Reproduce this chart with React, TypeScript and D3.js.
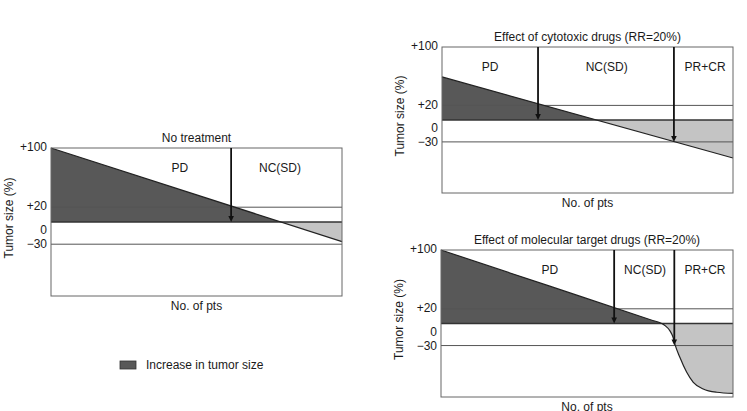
import React from 'react';
import * as d3 from 'd3';

// x: share of patients (%), y: change in tumor size (%)
const noTreatmentX = [0, 100];
const noTreatmentY = [100, -26.6];

const cytotoxicX = [0, 100];
const cytotoxicY = [59, -52];

const targetX = [0, 37, 72, 75.6, 76.7, 78.4, 79.5, 80.1, 81.8, 84.1, 86.4, 89.8, 94.4, 100];
const targetY = [100, 51.1, 4.8, 0, -2.7, -10, -19, -28, -46, -66, -80, -89, -93.5, -95];

const tickValues = [100, 20, 0, -30];
const tickLabels = ['+100', '+20', '0', '\u221230'];

const noTreatmentZones = ['PD', 'NC(SD)'];
const noTreatmentZoneAt = [44.3, 78.7];
const noTreatmentArrowAt = [61.9];
const noTreatmentArrowTo = [0];

const cytotoxicZones = ['PD', 'NC(SD)', 'PR+CR'];
const cytotoxicZoneAt = [16.5, 56.6, 90.4];
const cytotoxicArrowAt = [33, 79.7];
const cytotoxicArrowTo = [0, -30];

const targetZones = ['PD', 'NC(SD)', 'PR+CR'];
const targetZoneAt = [37.3, 69.9, 90.4];
const targetArrowAt = [59.3, 79.9];
const targetArrowTo = [0, -30];

const legendLabel = 'Increase in tumor size';

const DARK = '#585858';
const LIGHT = '#c4c4c4';
const FONT = 'Liberation Sans, Arial, Helvetica, sans-serif';
const INK = '#1a1a1a';

type PanelProps = {
  id: string;
  x0: number; x1: number; y0: number; y1: number;
  title: string;
  xs: number[]; ys: number[];
  curve: d3.CurveFactory;
  zones: string[]; zoneAt: number[];
  arrowAt: number[]; arrowTo: number[];
};

const Panel = ({ id, x0, x1, y0, y1, title, xs, ys, curve, zones, zoneAt, arrowAt, arrowTo }: PanelProps) => {
  const x = d3.scaleLinear().domain([0, 100]).range([x0, x1]);
  const y = d3.scaleLinear().domain([-100, 100]).range([y1, y0]);
  const pts: [number, number][] = xs.map((v, i) => [v, ys[i]]);

  const area = d3.area<[number, number]>()
    .x(d => x(d[0]))
    .y0(y(0))
    .y1(d => y(d[1]))
    .curve(curve);
  const line = d3.line<[number, number]>()
    .x(d => x(d[0]))
    .y(d => y(d[1]))
    .curve(curve);

  const zeroY = y(0);
  const w = x1 - x0;
  const cx = (x0 + x1) / 2;

  // small nudges so the "0" and "-30" labels do not sit on top of each other
  const tickNudge = (v: number) => (v === 0 ? 9 : v === -30 ? 1 : 0);

  return (
    <g>
      <defs>
        <clipPath id={`${id}-up`}>
          <rect x={x0} y={y0} width={w} height={zeroY - y0} />
        </clipPath>
        <clipPath id={`${id}-down`}>
          <rect x={x0} y={zeroY} width={w} height={y1 - zeroY} />
        </clipPath>
      </defs>

      {/* growth above baseline, shrinkage below */}
      <path d={area(pts) || ''} fill={DARK} clipPath={`url(#${id}-up)`} />
      <path d={area(pts) || ''} fill={LIGHT} clipPath={`url(#${id}-down)`} />

      {/* reference lines at +20 / 0 / -30 */}
      {tickValues.filter(v => v !== 100).map(v => (
        <line key={v} x1={x0} x2={x1} y1={y(v)} y2={y(v)}
          stroke={v === 0 ? '#333' : '#555'} strokeWidth={v === 0 ? 1.6 : 1} />
      ))}

      <path d={line(pts) || ''} fill="none" stroke="#222" strokeWidth={1.2} />

      <rect x={x0} y={y0} width={w} height={y1 - y0} fill="none" stroke="#666" strokeWidth={1} />

      {arrowAt.map((a, i) => {
        const ax = x(a);
        const tip = y(arrowTo[i]);
        return (
          <g key={i}>
            <line x1={ax} x2={ax} y1={y0} y2={tip - 5} stroke="#111" strokeWidth={1.8} />
            <path d={`M${ax - 2.8},${tip - 6} L${ax + 2.8},${tip - 6} L${ax},${tip} Z`} fill="#111" />
          </g>
        );
      })}

      {zones.map((z, i) => (
        <text key={z} x={x(zoneAt[i])} y={y0 + 21} textAnchor="middle" dominantBaseline="middle"
          fontSize={12} fill={INK}>{z}</text>
      ))}

      {tickValues.map((v, i) => (
        <text key={v} x={x0 - 4} y={y(v) + tickNudge(v)} textAnchor="end"
          dominantBaseline="middle" fontSize={12} fill={INK}>{tickLabels[i]}</text>
      ))}

      <text x={cx} y={y0 - 9} textAnchor="middle" dominantBaseline="middle" fontSize={12} fill={INK}>
        {title}
      </text>
      <text x={cx} y={y1 + 11} textAnchor="middle" dominantBaseline="middle" fontSize={12} fill={INK}>
        No. of pts
      </text>
      <text transform={`translate(${x0 - 41},${(y0 + y1) / 2 - 4}) rotate(-90)`} textAnchor="middle"
        dominantBaseline="middle" fontSize={12} fill={INK}>
        Tumor size (%)
      </text>
    </g>
  );
};

const App = () => {
  return (
    <svg width={747} height={411} style={{ position: 'absolute', left: 0, top: 0, background: '#fff' }}
      fontFamily={FONT}>
      <Panel id="none" x0={51} x1={342} y0={148} y1={296} title="No treatment"
        xs={noTreatmentX} ys={noTreatmentY} curve={d3.curveLinear}
        zones={noTreatmentZones} zoneAt={noTreatmentZoneAt}
        arrowAt={noTreatmentArrowAt} arrowTo={noTreatmentArrowTo} />
      <Panel id="cyto" x0={442} x1={733} y0={47} y1={193} title="Effect of cytotoxic drugs (RR=20%)"
        xs={cytotoxicX} ys={cytotoxicY} curve={d3.curveLinear}
        zones={cytotoxicZones} zoneAt={cytotoxicZoneAt}
        arrowAt={cytotoxicArrowAt} arrowTo={cytotoxicArrowTo} />
      <Panel id="mtd" x0={441} x1={733} y0={250} y1={397} title="Effect of molecular target drugs (RR=20%)"
        xs={targetX} ys={targetY} curve={d3.curveMonotoneX}
        zones={targetZones} zoneAt={targetZoneAt}
        arrowAt={targetArrowAt} arrowTo={targetArrowTo} />

      {/* legend */}
      <rect x={120} y={361} width={16} height={8} fill={DARK} stroke="#333" strokeWidth={0.8} />
      <text x={146} y={366} dominantBaseline="middle" fontSize={12} fill={INK}>{legendLabel}</text>
    </svg>
  );
};

export default App;
